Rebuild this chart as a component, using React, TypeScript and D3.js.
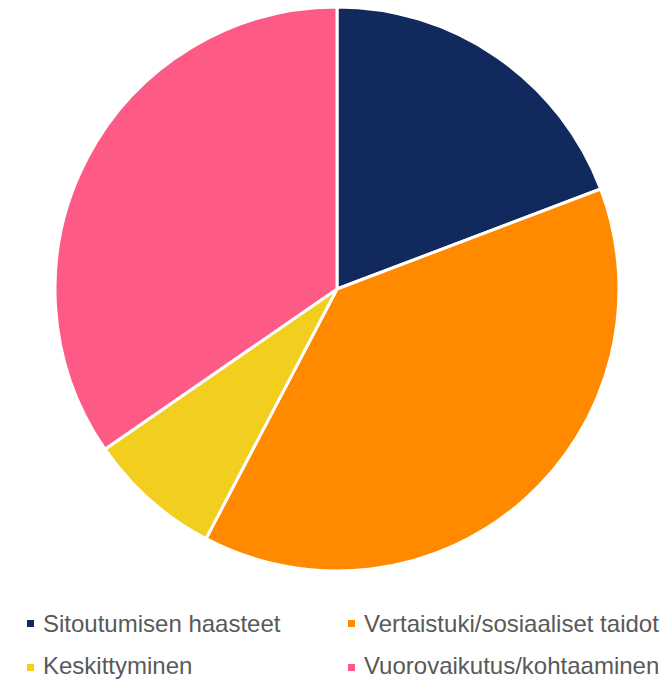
import React from "react";
import * as d3 from "d3";

const categories = ["Sitoutumisen haasteet", "Vertaistuki/sosiaaliset taidot", "Keskittyminen", "Vuorovaikutus/kohtaaminen"];
const values = [5, 10, 2, 9];
const colors = ["#12295e", "#ff8a00", "#f2cf1e", "#fe5a86"];

export default function App() {
  const width = 672, height = 679;
  const cx = 337, cy = 289, r = 282;
  const pie = d3.pie<number>().sort(null).value((d) => d);
  const arcs = pie(values);
  const arc = d3.arc<d3.PieArcDatum<number>>().innerRadius(0).outerRadius(r);
  const legendPos = [
    { x: 27, y: 620, ty: 632 },
    { x: 348, y: 620, ty: 632 },
    { x: 27, y: 664, ty: 674 },
    { x: 348, y: 664, ty: 674 },
  ];
  return (
    <svg width={width} height={height} style={{ position: "absolute", left: 0, top: 0 }}>
      <g transform={`translate(${cx},${cy})`}>
        {arcs.map((a, i) => (
          <path key={i} d={arc(a) || ""} fill={colors[i]} stroke="#fff" strokeWidth={3} strokeLinejoin="round" />
        ))}
      </g>
      {categories.map((c, i) => (
        <g key={c}>
          <rect x={legendPos[i].x} y={legendPos[i].y} width={7} height={7} fill={colors[i]} />
          <text x={legendPos[i].x + 16} y={legendPos[i].ty} fontFamily="Liberation Sans, Arial, sans-serif" fontSize={24} fill="#595959">
            {c}
          </text>
        </g>
      ))}
    </svg>
  );
}
